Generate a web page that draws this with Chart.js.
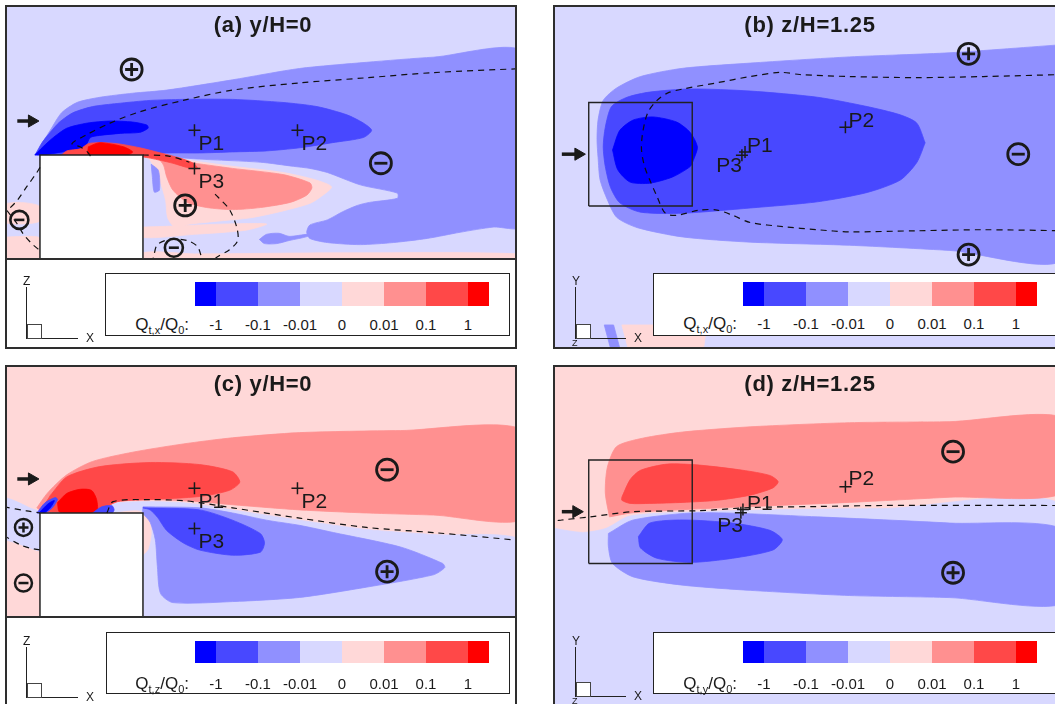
<!DOCTYPE html>
<html><head><meta charset="utf-8">
<script src="https://cdn.jsdelivr.net/npm/chart.js@4.4.1/dist/chart.umd.min.js"></script>
<style>
body{margin:0;width:1055px;height:704px;overflow:hidden;background:#fff;position:relative;font-family:"Liberation Sans",Arial,Helvetica,sans-serif;color:#1a1a1a}
canvas{position:absolute;display:block}
.frame{position:absolute;border:2px solid #2e2e2e;box-sizing:border-box;pointer-events:none}
.bar{position:absolute;background:#2e2e2e}
.title{position:absolute;font-weight:bold;font-size:22px;letter-spacing:0.7px;transform:translateX(-50%);white-space:nowrap;line-height:1}
.plabel{position:absolute;font-size:21px;line-height:1;white-space:nowrap;color:#1a1a1a}
.legbox{position:absolute;border:1.5px solid #222;background:#fff;box-sizing:border-box}
.cell{position:absolute}
.tick{position:absolute;font-size:15px;transform:translateX(-50%);line-height:1;white-space:nowrap}
.qlab{position:absolute;font-size:17px;line-height:1;white-space:nowrap;transform:translateX(-100%)}
.qlab sub{font-size:11px;vertical-align:-4px;line-height:0}
.ax{position:absolute;background:#222}
.axt{position:absolute;font-size:12px;line-height:1}
.sq{position:absolute;border:1px solid #444;box-sizing:border-box}
</style></head><body>
<script>
// ---------- contour levels ----------
const LEVEL_COLORS = ['#0000FF','#4848FF','#9090FF','#D8D8FF','#FFD8D8','#FF9090','#FF4848','#FF0000'];
const LEVEL_LABELS = ['-1','-0.1','-0.01','0','0.01','0.1','1'];
const PROBE_NAMES = ['P1','P2','P3'];

// ---------- panel (a) y/H=0, Qt,x  (x/H, z/H) ----------
const A_BG = [[-1,-0.3],[4.3,-0.3],[4.3,2.6],[-1,2.6]];
const A_LPINK_L1 = [[-0.9,0.52],[-0.7,0.54],[-0.5,0.5],[-0.5,0.36],[-0.7,0.33],[-0.9,0.36]];
const A_LPINK_L2 = [[-0.9,0.2],[-0.6,0.21],[-0.5,0.19],[-0.5,-0.1],[-0.9,-0.1]];
const A_LPINK_GROUND = [[0.5,-0.1],[4.3,-0.1],[4.3,0.03],[2.5,0.05],[1.0,0.04],[0.5,0.05]];
const A_LPINK_BAND = [[0.5,0.3],[0.8,0.31],[1.3,0.33],[1.7,0.33],[1.5,0.27],[1.0,0.23],[0.5,0.2]];
const A_LPINK = [[0.50,1.00],[0.93,0.95],[1.37,0.89],[1.86,0.83],[2.17,0.76],[2.33,0.69],[2.22,0.59],[2.12,0.53],[1.83,0.45],[1.54,0.39],[1.25,0.36],[0.96,0.33],[0.81,0.30],[0.74,0.39],[0.72,0.56],[0.66,0.76],[0.57,0.95]];
const A_MED = [[-0.55,1.00],[-0.50,1.08],[-0.40,1.24],[-0.29,1.41],[-0.14,1.51],[0.08,1.56],[0.40,1.60],[0.73,1.63],[1.37,1.73],[2.02,1.84],[2.67,1.90],[3.32,1.95],[4.2,1.99],[4.2,0.31],[3.90,0.30],[3.58,0.25],[3.26,0.19],[2.93,0.15],[2.61,0.13],[2.29,0.15],[2.12,0.19],[2.09,0.25],[2.12,0.32],[2.29,0.37],[2.44,0.45],[2.58,0.51],[2.70,0.54],[2.97,0.58],[2.97,0.63],[2.61,0.71],[2.29,0.83],[2.12,0.87],[1.96,0.89],[1.64,0.93],[1.05,0.96],[0.50,1.00],[0.0,1.0]];
const A_MED_SLIVER = [[0.58,0.91],[0.65,0.85],[0.66,0.66],[0.61,0.64],[0.59,0.80]];
const A_MED_BLOB = [[1.63,0.18],[1.70,0.23],[1.82,0.24],[1.92,0.21],[2.10,0.23],[2.10,0.21],[1.92,0.17],[1.80,0.14],[1.68,0.14]];
const A_PINK = [[0.50,0.99],[0.93,0.93],[1.37,0.87],[1.86,0.81],[2.12,0.73],[2.14,0.68],[2.09,0.61],[1.93,0.54],[1.64,0.49],[1.37,0.47],[1.12,0.49],[0.93,0.54],[0.79,0.66],[0.73,0.79],[0.70,0.90],[0.64,0.97]];
const A_BLUE = [[-0.54,1.01],[-0.48,1.12],[-0.40,1.22],[-0.31,1.32],[-0.18,1.41],[0.01,1.47],[0.25,1.50],[0.57,1.53],[0.89,1.54],[1.37,1.54],[1.86,1.51],[2.19,1.47],[2.48,1.39],[2.64,1.31],[2.72,1.24],[2.64,1.17],[2.34,1.12],[2.02,1.07],[1.70,1.04],[1.37,1.03],[1.05,1.02],[0.73,1.02],[0.50,1.01],[0.0,1.0]];
const A_DEEP = [[-0.55,1.00],[-0.47,1.08],[-0.37,1.17],[-0.24,1.26],[-0.04,1.31],[0.18,1.33],[0.40,1.32],[0.54,1.29],[0.55,1.26],[0.47,1.22],[0.28,1.21],[0.08,1.19],[-0.01,1.17],[-0.06,1.08],[-0.11,1.05],[-0.28,1.03],[-0.47,1.00]];
const A_RED = [[-0.29,1.00],[-0.24,1.04],[-0.11,1.06],[-0.03,1.11],[0.08,1.12],[0.25,1.11],[0.47,1.07],[0.67,1.02],[0.86,0.97],[0.99,0.92],[1.03,0.87],[0.96,0.87],[0.79,0.92],[0.57,0.97],[0.50,0.98],[0.1,0.98]];
const A_REDDEEP = [[-0.03,1.08],[0.08,1.12],[0.31,1.08],[0.40,1.03],[0.34,1.0],[-0.03,1.0]];
const A_BUILDING = [[-0.5,-0.05],[0.5,-0.05],[0.5,1.0],[-0.5,1.0]];
const A_DASH1 = [[-0.01,0.99],[-0.04,1.03],[-0.11,1.08],[-0.19,1.11],[-0.06,1.19],[0.18,1.31],[0.47,1.42],[0.89,1.53],[1.37,1.63],[2.02,1.70],[2.67,1.75],[3.32,1.80],[4.2,1.84]];
const A_DASH2 = [[0.5,1.0],[0.75,0.99],[0.95,0.93]];
const A_DASH3 = [[1.2,0.62],[1.23,0.59],[1.34,0.47],[1.41,0.30],[1.42,0.17],[1.34,0.08],[1.22,0.01],[1.15,-0.05]];
const A_DASH4 = [[0.58,-0.05],[0.60,0.00],[0.64,0.13],[0.76,0.18],[0.93,0.17],[1.03,0.11],[1.07,0.0],[1.08,-0.05]];
const A_DASH5 = [[-0.5,0.88],[-0.53,0.83],[-0.63,0.69],[-0.72,0.56],[-0.81,0.47],[-0.85,0.45]];
const A_DASH6 = [[-0.82,0.46],[-0.72,0.33],[-0.66,0.23],[-0.58,0.14],[-0.51,0.08]];
const A_PLUS = [[0.39,1.83],[0.91,0.51]];
const A_MINUS = [[2.81,0.92]];
const A_MINUS_SMALL = [[-0.70,0.37],[0.80,0.10]];
const A_PROBES = [[1.00,1.24],[2.00,1.24],[1.00,0.87]];
const A_ARROW = [[-0.72,1.33],[-0.60,1.33]];
const A_ARROW_HEAD = [-0.578,1.33];

// ---------- panel (b) z/H=1.25, Qt,x  (x/H, y/H) ----------
const B_BG = [[-1,-2],[4.2,-2],[4.2,1.6],[-1,1.6]];
const B_PATCH = [[-0.18,-1.65],[0.64,-1.65],[0.60,-1.95],[-0.10,-1.95]];
const B_SLIVER = [[-0.35,-1.65],[-0.26,-1.65],[-0.18,-1.95],[-0.27,-1.95]];
const B_MED = [[4.1,1.06],[2.99,0.98],[2.02,0.94],[1.06,0.88],[0.41,0.83],[0.00,0.75],[-0.23,0.64],[-0.36,0.52],[-0.41,0.33],[-0.42,0.14],[-0.41,-0.03],[-0.39,-0.25],[-0.32,-0.44],[-0.23,-0.61],[-0.03,-0.71],[0.41,-0.80],[1.06,-0.85],[2.02,-0.88],[2.99,-0.93],[4.1,-1.00]];
const B_BLUE = [[2.75,0.11],[2.67,0.30],[2.51,0.38],[2.19,0.46],[1.71,0.55],[1.06,0.61],[0.48,0.63],[0.09,0.60],[-0.13,0.55],[-0.28,0.46],[-0.34,0.26],[-0.36,0.07],[-0.34,-0.12],[-0.29,-0.32],[-0.20,-0.47],[0.00,-0.56],[0.41,-0.57],[1.06,-0.52],[1.71,-0.46],[2.19,-0.37],[2.51,-0.25],[2.67,-0.08]];
const B_DEEP = [[-0.27,0.04],[-0.20,0.23],[-0.07,0.33],[0.12,0.36],[0.35,0.31],[0.48,0.21],[0.55,0.07],[0.51,-0.06],[0.48,-0.12],[0.31,-0.22],[0.09,-0.28],[-0.10,-0.27],[-0.22,-0.15]];
const B_SQUARE = [[-0.5,-0.5],[0.5,-0.5],[0.5,0.5],[-0.5,0.5]];
const B_DASH = [[4.1,0.77],[3.31,0.75],[2.67,0.74],[2.02,0.75],[1.54,0.77],[1.35,0.79],[1.06,0.75],[0.74,0.69],[0.41,0.63],[0.26,0.59],[0.16,0.52],[0.07,0.40],[0.02,0.20],[0.01,0.04],[0.04,-0.12],[0.09,-0.25],[0.16,-0.41],[0.24,-0.57],[0.35,-0.59],[0.57,-0.54],[0.74,-0.54],[0.89,-0.59],[1.06,-0.66],[1.38,-0.70],[1.71,-0.73],[2.02,-0.75],[2.67,-0.74],[3.31,-0.73],[4.1,-0.74]];
const B_PLUS = [[3.17,0.97],[3.17,-0.97]];
const B_MINUS = [[3.65,0.0]];
const B_PROBES = [[1.01,0.02],[1.98,0.26],[0.98,-0.01]];
const B_ARROW = [[-0.76,0.0],[-0.63,0.0]];
const B_ARROW_HEAD = [-0.60,0.0];

// ---------- panel (c) y/H=0, Qt,z  (x/H, z/H) ----------
const C_BG = [[-1,-0.3],[4.3,-0.3],[4.3,2.6],[-1,2.6]];
const C_LB_L = [[-0.9,1.17],[-0.75,1.12],[-0.6,1.05],[-0.5,1.0],[-0.5,0.64],[-0.6,0.66],[-0.7,0.70],[-0.9,0.78]];
const C_LB_R = [[0.15,1.0],[0.21,1.09],[0.57,1.11],[0.89,1.10],[1.05,1.08],[1.37,1.03],[2.02,0.93],[2.67,0.84],[3.32,0.79],[4.2,0.72],[4.2,-0.1],[0.5,-0.1],[0.5,1.0]];
const C_PINK_SIDE = [[0.5,0.98],[0.56,0.96],[0.58,0.8],[0.55,0.65],[0.5,0.6]];
const C_PINK = [[-0.53,1.05],[-0.43,1.19],[-0.24,1.37],[0.01,1.50],[0.40,1.59],[0.89,1.67],[1.37,1.73],[2.02,1.78],[3.00,1.80],[4.2,1.80],[4.2,0.95],[3.32,0.98],[2.67,1.00],[2.02,1.03],[1.37,1.08],[1.05,1.11],[0.57,1.13],[0.25,1.11],[0.08,1.03],[-0.24,1.01],[-0.47,1.01]];
const C_MED = [[0.50,1.06],[1.05,1.05],[1.37,1.00],[1.70,0.93],[2.02,0.88],[2.35,0.81],[3.00,0.67],[3.41,0.51],[3.43,0.47],[3.32,0.40],[2.67,0.28],[2.02,0.18],[1.37,0.14],[0.79,0.13],[0.67,0.22],[0.64,0.48],[0.62,0.74],[0.57,0.91],[0.50,1.0]];
const C_BLUE = [[0.50,1.05],[1.05,1.03],[1.37,0.93],[1.64,0.80],[1.68,0.71],[1.64,0.62],[1.37,0.59],[1.05,0.64],[0.89,0.71],[0.73,0.83],[0.64,0.96],[0.57,1.03]];
const C_RED = [[-0.40,1.17],[-0.24,1.35],[0.08,1.45],[0.57,1.49],[1.05,1.47],[1.37,1.40],[1.44,1.30],[1.34,1.22],[1.05,1.16],[0.57,1.13],[0.25,1.11],[0.08,1.03],[-0.24,1.01],[-0.47,1.03]];
const C_REDDEEP = [[-0.33,1.10],[-0.24,1.19],[-0.11,1.23],[0.00,1.22],[0.05,1.13],[0.05,1.01],[-0.14,1.00],[-0.31,1.01]];
const C_BLUE_TIP1 = [[-0.53,1.00],[-0.45,1.10],[-0.35,1.15],[-0.33,1.13],[-0.38,1.05],[-0.45,1.00]];
const C_DEEP_TIP1 = [[-0.50,1.01],[-0.42,1.09],[-0.36,1.12],[-0.40,1.05],[-0.46,1.00]];
const C_BLUE_TIP2 = [[0.01,1.0],[0.1,1.06],[0.2,1.07],[0.22,1.03],[0.2,1.0]];
const C_BUILDING = [[-0.5,-0.05],[0.5,-0.05],[0.5,1.0],[-0.5,1.0]];
const C_DASH1 = [[0.15,1.0],[0.21,1.11],[0.57,1.13],[0.89,1.12],[1.05,1.10],[1.37,1.05],[2.02,0.95],[2.67,0.86],[3.32,0.81],[4.2,0.73]];
const C_DASH2 = [[-0.85,1.06],[-0.63,1.02],[-0.5,1.0]];
const C_DASH3 = [[-0.85,0.78],[-0.69,0.69],[-0.60,0.66],[-0.5,0.64]];
const C_PLUS = [[2.87,0.43]];
const C_MINUS = [[2.87,1.42]];
const C_PLUS_SMALL = [[-0.66,0.86]];
const C_MINUS_SMALL = [[-0.66,0.32]];
const C_PROBES = [[1.00,1.24],[2.00,1.24],[1.00,0.85]];
const C_ARROW = [[-0.72,1.33],[-0.60,1.33]];
const C_ARROW_HEAD = [-0.578,1.33];

// ---------- panel (d) z/H=1.25, Qt,y  (x/H, y/H) ----------
const D_BG = [[-1,-2],[4.2,-2],[4.2,1.6],[-1,1.6]];
const D_LB = [[-0.9,-0.15],[-0.56,-0.20],[-0.33,-0.16],[-0.13,-0.05],[0.09,-0.02],[0.57,0.00],[1.38,0.02],[2.34,0.03],[4.1,0.04],[4.1,-2.0],[-0.9,-2.0]];
const D_PINK = [[-0.30,-0.05],[-0.34,0.18],[-0.32,0.43],[-0.23,0.63],[0.02,0.71],[0.41,0.77],[1.06,0.82],[2.02,0.86],[2.99,0.87],[4.1,0.90],[4.1,0.19],[2.99,0.14],[2.02,0.09],[1.06,0.05],[0.41,0.02],[-0.07,-0.01]];
const D_RED = [[-0.18,0.14],[-0.10,0.31],[0.00,0.40],[0.26,0.46],[0.57,0.45],[0.99,0.40],[1.25,0.35],[1.33,0.29],[1.28,0.23],[1.06,0.16],[0.74,0.11],[0.41,0.09],[0.09,0.08],[-0.10,0.08],[-0.18,0.11]];
const D_MED = [[-0.31,-0.21],[-0.07,-0.08],[0.57,-0.01],[1.71,-0.05],[2.99,-0.11],[4.1,-0.18],[4.1,-0.88],[2.99,-0.83],[2.02,-0.81],[1.06,-0.76],[0.41,-0.71],[-0.07,-0.63],[-0.27,-0.50],[-0.31,-0.34]];
const D_BLUE = [[-0.02,-0.24],[0.09,-0.11],[0.41,-0.08],[0.89,-0.11],[1.25,-0.18],[1.37,-0.27],[1.28,-0.37],[0.89,-0.45],[0.48,-0.49],[0.16,-0.45],[0.00,-0.35]];
const D_SQUARE = [[-0.5,-0.5],[0.5,-0.5],[0.5,0.5],[-0.5,0.5]];
const D_DASH = [[-0.80,-0.085],[-0.76,-0.08],[-0.49,-0.05],[-0.07,0.00],[0.57,0.01],[1.06,0.04],[1.71,0.05],[2.34,0.06],[4.1,0.06]];
const D_PLUS = [[3.02,-0.59]];
const D_MINUS = [[3.02,0.58]];
const D_PROBES = [[0.99,0.02],[1.98,0.24],[0.97,-0.01]];
const D_ARROW = [[-0.76,0.0],[-0.64,0.0]];
const D_ARROW_HEAD = [-0.62,0.0];

// ---------- helpers ----------
const [CM1, CM01, CM001, CM0, CP0, CP001, CP01, CP1] = LEVEL_COLORS;
const INK = '#1a1a1a';
const xy = pts => pts.map(p => ({x:p[0], y:p[1]}));
function fillDS(pts, color, o){
  const d = xy(pts); d.push({x:pts[0][0], y:pts[0][1]});
  return Object.assign({data:d, showLine:true, fill:'shape', backgroundColor:color, borderColor:color,
    borderWidth:0.8, pointRadius:0, tension:0.25}, o||{});
}
function dashDS(pts, o){
  return Object.assign({data:xy(pts), showLine:true, fill:false, borderColor:'#111', borderWidth:1.2,
    borderDash:[6,5], pointRadius:0, tension:0.3}, o||{});
}
function markDS(pts, style, r, bw, o){
  return Object.assign({data:xy(pts), showLine:false, pointStyle:style, pointRadius:r, pointBorderWidth:bw,
    pointBorderColor:INK, pointBackgroundColor:'rgba(0,0,0,0)'}, o||{});
}
function ringSet(plus, minus, r, bw, inner){
  const out = [];
  if (plus.length){ out.push(markDS(plus,'circle',r,bw)); out.push(markDS(plus,'cross',inner,bw)); }
  if (minus.length){ out.push(markDS(minus,'circle',r,bw)); out.push(markDS(minus,'line',inner,bw)); }
  return out;
}
function arrowSet(shaft, head){
  return [
    dashDS(shaft,{borderDash:[], borderWidth:3.5, tension:0, borderColor:INK}),
    markDS([head],'triangle',7,1,{pointRotation:90, pointBackgroundColor:INK})
  ];
}
function makePanel(left, top, w, h, xr, yr, datasets){
  const cv = document.createElement('canvas');
  cv.width = w; cv.height = h;
  cv.style.left = left+'px'; cv.style.top = top+'px';
  document.body.appendChild(cv);
  datasets.forEach((d,i) => { d.order = -i; });
  const chart = new Chart(cv, {
    type:'scatter',
    data:{datasets},
    options:{
      responsive:false, animation:false, events:[], devicePixelRatio:1,
      layout:{padding:0, autoPadding:false},
      plugins:{legend:{display:false}, tooltip:{enabled:false}, title:{display:false}},
      scales:{
        x:{type:'linear', display:false, min:xr[0], max:xr[1]},
        y:{type:'linear', display:false, min:yr[0], max:yr[1]}
      }
    }
  });
  return {chart, left, top};
}
function el(cls, css, html){
  const d = document.createElement('div'); d.className = cls;
  Object.assign(d.style, css); if (html !== undefined) d.innerHTML = html;
  document.body.appendChild(d); return d;
}
function probeLabels(p, pts, offs){
  pts.forEach((pt,i) => {
    const px = p.left + p.chart.scales.x.getPixelForValue(pt[0]);
    const py = p.top + p.chart.scales.y.getPixelForValue(pt[1]);
    const d = el('plabel', {left:(px+offs[i][0])+'px', top:(py+offs[i][1])+'px'});
    d.textContent = PROBE_NAMES[i];
    if (offs[i][2]) d.style.transform = 'translateX(-100%)';
  });
}
function legend(boxL, boxT, boxW, boxH, barL, barT, barH, base, sub){
  el('legbox', {left:boxL+'px', top:boxT+'px', width:boxW+'px', height:boxH+'px'});
  let x = barL;
  LEVEL_COLORS.forEach((c,i) => {
    const w = (i===0 || i===LEVEL_COLORS.length-1) ? 21 : 42;
    el('cell', {left:x+'px', top:barT+'px', width:w+'px', height:barH+'px', background:c});
    x += w;
  });
  LEVEL_LABELS.forEach((t,i) => {
    const d = el('tick', {left:(barL+21+42*i)+'px', top:(base-12.7)+'px'}); d.textContent = t;
  });
  el('qlab', {left:(barL-6)+'px', top:(base-14.5)+'px'}, 'Q<sub>t,'+sub+'</sub>/Q<sub>0</sub>:');
}
function axisIcon(x0, yTop, yBot, hLen, vert, horz, whiteSq, zLabel){
  el('ax', {left:x0+'px', top:yTop+'px', width:'1px', height:(yBot-yTop)+'px'});
  el('ax', {left:x0+'px', top:yBot+'px', width:hLen+'px', height:'1px'});
  el('sq', {left:(x0+1)+'px', top:(yBot-14)+'px', width:'15px', height:'15px', background: whiteSq ? '#fff' : 'transparent'});
  const v = el('axt', {left:(x0-3)+'px', top:(yTop-12)+'px'}); v.textContent = vert;
  const h = el('axt', {left:(x0+hLen+8)+'px', top:(yBot-6)+'px'}); h.textContent = horz;
  if (zLabel){ const z = el('axt', {left:(x0-3)+'px', top:(yBot+1)+'px', fontSize:'9px'}); z.textContent = zLabel; }
}

// ---------- panel (a) ----------
const pa = makePanel(7, 7, 508, 251, [-0.820, 4.112], [0, 2.437], [
  fillDS(A_BG, CM0, {tension:0}),
  fillDS(A_LPINK_L1, CP0), fillDS(A_LPINK_L2, CP0), fillDS(A_LPINK_GROUND, CP0), fillDS(A_LPINK_BAND, CP0),
  fillDS(A_LPINK, CP0),
  fillDS(A_MED, CM001), fillDS(A_MED_SLIVER, CM001), fillDS(A_MED_BLOB, CM001),
  fillDS(A_PINK, CP001),
  fillDS(A_BLUE, CM01), fillDS(A_DEEP, CM1),
  fillDS(A_RED, CP01), fillDS(A_REDDEEP, CP1),
  fillDS(A_BUILDING, '#ffffff', {borderColor:'#222', borderWidth:1.5, tension:0}),
  dashDS(A_DASH1), dashDS(A_DASH2), dashDS(A_DASH3), dashDS(A_DASH4), dashDS(A_DASH5), dashDS(A_DASH6),
  ...ringSet(A_PLUS, A_MINUS, 10.5, 2.8, 6.5),
  ...ringSet([], A_MINUS_SMALL, 9, 2.6, 5),
  markDS(A_PROBES, 'cross', 6, 1.5),
  ...arrowSet(A_ARROW, A_ARROW_HEAD)
]);

// ---------- panel (b) ----------
const pb = makePanel(555, 7, 500, 340, [-0.826, 4.005], [-1.863, 1.422], [
  fillDS(B_BG, CM0, {tension:0}),
  fillDS(B_PATCH, CP0, {tension:0}), fillDS(B_SLIVER, CM001, {tension:0}),
  fillDS(B_MED, CM001), fillDS(B_BLUE, CM01), fillDS(B_DEEP, CM1),
  fillDS(B_SQUARE, 'rgba(0,0,0,0)', {fill:false, borderColor:'#222', borderWidth:1.4, tension:0}),
  dashDS(B_DASH),
  ...ringSet(B_PLUS, B_MINUS, 10.5, 2.8, 6.5),
  markDS(B_PROBES, 'cross', 6, 1.5),
  ...arrowSet(B_ARROW, B_ARROW_HEAD)
]);

// ---------- panel (c) ----------
const pc = makePanel(7, 367, 508, 249, [-0.820, 4.112], [0, 2.417], [
  fillDS(C_BG, CP0, {tension:0}),
  fillDS(C_LB_L, CM0), fillDS(C_LB_R, CM0), fillDS(C_PINK_SIDE, CP0),
  fillDS(C_PINK, CP001),
  fillDS(C_MED, CM001), fillDS(C_BLUE, CM01),
  fillDS(C_RED, CP01), fillDS(C_REDDEEP, CP1),
  fillDS(C_BLUE_TIP1, CM01), fillDS(C_DEEP_TIP1, CM1), fillDS(C_BLUE_TIP2, CM01),
  fillDS(C_BUILDING, '#ffffff', {borderColor:'#222', borderWidth:1.5, tension:0}),
  dashDS(C_DASH1), dashDS(C_DASH2), dashDS(C_DASH3),
  ...ringSet(C_PLUS, C_MINUS, 10.5, 2.8, 6.5),
  ...ringSet(C_PLUS_SMALL, C_MINUS_SMALL, 8.5, 2.5, 5),
  markDS(C_PROBES, 'cross', 6, 1.5),
  ...arrowSet(C_ARROW, C_ARROW_HEAD)
]);

// ---------- panel (d) ----------
const pd = makePanel(555, 367, 500, 337, [-0.826, 4.005], [-1.858, 1.398], [
  fillDS(D_BG, CP0, {tension:0}),
  fillDS(D_LB, CM0),
  fillDS(D_PINK, CP001), fillDS(D_RED, CP01),
  fillDS(D_MED, CM001), fillDS(D_BLUE, CM01),
  fillDS(D_SQUARE, 'rgba(0,0,0,0)', {fill:false, borderColor:'#222', borderWidth:1.4, tension:0}),
  dashDS(D_DASH),
  ...ringSet(D_PLUS, D_MINUS, 10.5, 2.8, 6.5),
  markDS(D_PROBES, 'cross', 6, 1.5),
  ...arrowSet(D_ARROW, D_ARROW_HEAD)
]);

// ---------- frames, separators ----------
el('bar', {left:'7px', top:'258px', width:'508px', height:'2px'});
el('bar', {left:'7px', top:'616px', width:'508px', height:'2px'});
el('frame', {left:'5px', top:'5px', width:'512px', height:'344px'});
el('frame', {left:'553px', top:'5px', width:'600px', height:'344px'});
el('frame', {left:'5px', top:'365px', width:'512px', height:'400px'});
el('frame', {left:'553px', top:'365px', width:'600px', height:'400px'});

// ---------- legends ----------
legend(105, 273, 405, 63, 195, 282, 24, 330, 'x');
legend(653, 273, 450, 63, 743, 282, 24, 329, 'x');
legend(106, 632, 404, 62, 195, 641, 22, 689, 'z');
legend(653, 632, 450, 62, 743, 641, 22, 689, 'y');

// ---------- axis icons ----------
axisIcon(26, 287, 338, 52, 'Z', 'X', false, null);
axisIcon(575, 287, 338, 51, 'Y', 'X', true, 'Z');
axisIcon(26, 647, 697, 52, 'Z', 'X', false, null);
axisIcon(575, 647, 696, 51, 'Y', 'X', true, 'Z');

// ---------- titles ----------
el('title', {left:'263px', top:'14px'}).textContent = '(a) y/H=0';
el('title', {left:'810px', top:'14px'}).textContent = '(b) z/H=1.25';
el('title', {left:'263px', top:'373px'}).textContent = '(c) y/H=0';
el('title', {left:'810px', top:'373px'}).textContent = '(d) z/H=1.25';

// ---------- probe labels ----------
probeLabels(pa, A_PROBES, [[4,2],[4,2],[4,2]]);
probeLabels(pb, B_PROBES, [[2,-18],[3,-18],[0,-1,true]]);
probeLabels(pc, C_PROBES, [[4,2],[4,2],[4,2]]);
probeLabels(pd, D_PROBES, [[4,-18],[3,-20],[2,1,true]]);
</script>
</body></html>
